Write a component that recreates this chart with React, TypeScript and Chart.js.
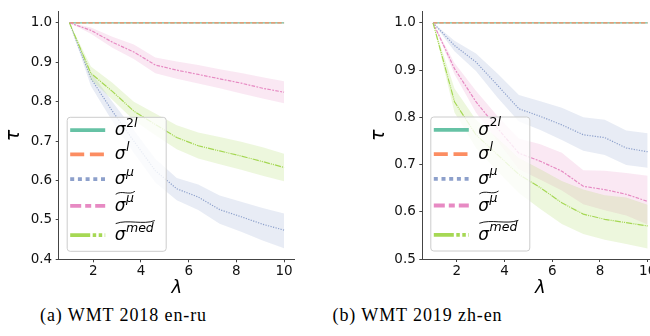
import React, { useEffect, useRef } from 'react';
import { Chart, registerables } from 'chart.js';

Chart.register(...registerables);

// ---------- data ----------
const lambdas = [1, 1.9, 2.8, 3.7, 4.6, 5.5, 6.4, 7.3, 8.2, 9.1, 10];
const xTicks = [2, 4, 6, 8, 10];
const yTicksA = [0.4, 0.5, 0.6, 0.7, 0.8, 0.9, 1.0];
const yTicksB = [0.5, 0.6, 0.7, 0.8, 0.9, 1.0];

// (a) WMT 2018 en-ru
const a_sigma2l = [1.0, 1.0, 1.0, 1.0, 1.0, 1.0, 1.0, 1.0, 1.0, 1.0, 1.0];
const a_sigmal = [1.0, 1.0, 1.0, 1.0, 1.0, 1.0, 1.0, 1.0, 1.0, 1.0, 1.0];
const a_mu_mean = [1.0, 0.859, 0.776, 0.7, 0.625, 0.579, 0.558, 0.526, 0.508, 0.489, 0.474];
const a_mu_upper = [1.0, 0.875, 0.8, 0.728, 0.655, 0.606, 0.59, 0.562, 0.546, 0.53, 0.516];
const a_mu_lower = [1.0, 0.84, 0.75, 0.67, 0.595, 0.55, 0.525, 0.49, 0.47, 0.448, 0.428];
const a_tmu_mean = [1.0, 0.981, 0.951, 0.926, 0.893, 0.88, 0.869, 0.858, 0.847, 0.834, 0.824];
const a_tmu_upper = [1.0, 0.988, 0.965, 0.945, 0.912, 0.902, 0.893, 0.882, 0.873, 0.862, 0.852];
const a_tmu_lower = [1.0, 0.972, 0.937, 0.908, 0.872, 0.858, 0.846, 0.834, 0.821, 0.808, 0.796];
const a_med_mean = [1.0, 0.872, 0.826, 0.776, 0.742, 0.709, 0.688, 0.675, 0.662, 0.648, 0.633];
const a_med_upper = [1.0, 0.889, 0.848, 0.8, 0.77, 0.74, 0.722, 0.71, 0.698, 0.684, 0.668];
const a_med_lower = [1.0, 0.856, 0.805, 0.753, 0.715, 0.679, 0.656, 0.641, 0.627, 0.612, 0.598];

// (b) WMT 2019 zh-en
const b_sigma2l = [1.0, 1.0, 1.0, 1.0, 1.0, 1.0, 1.0, 1.0, 1.0, 1.0, 1.0];
const b_sigmal = [1.0, 1.0, 1.0, 1.0, 1.0, 1.0, 1.0, 1.0, 1.0, 1.0, 1.0];
const b_mu_mean = [1.0, 0.952, 0.917, 0.868, 0.818, 0.802, 0.784, 0.763, 0.757, 0.735, 0.727];
const b_mu_upper = [1.0, 0.962, 0.935, 0.893, 0.847, 0.834, 0.82, 0.8, 0.795, 0.772, 0.766];
const b_mu_lower = [1.0, 0.94, 0.898, 0.842, 0.791, 0.773, 0.752, 0.729, 0.72, 0.699, 0.693];
const b_tmu_mean = [1.0, 0.903, 0.833, 0.777, 0.724, 0.707, 0.686, 0.654, 0.647, 0.637, 0.622];
const b_tmu_upper = [1.0, 0.915, 0.856, 0.803, 0.755, 0.743, 0.725, 0.688, 0.687, 0.682, 0.676];
const b_tmu_lower = [1.0, 0.891, 0.81, 0.75, 0.69, 0.668, 0.645, 0.616, 0.603, 0.592, 0.573];
const b_med_mean = [1.0, 0.833, 0.763, 0.721, 0.679, 0.651, 0.619, 0.595, 0.584, 0.577, 0.57];
const b_med_upper = [1.0, 0.861, 0.795, 0.756, 0.714, 0.69, 0.665, 0.647, 0.635, 0.63, 0.615];
const b_med_lower = [1.0, 0.81, 0.735, 0.686, 0.64, 0.606, 0.574, 0.553, 0.541, 0.532, 0.522];

// legend labels: σ with superscript, optional wide tilde
const legendSups = ['2l', 'l', 'μ', 'μ', 'med'];
const legendTilde = [false, false, false, true, true];
const captions = ['(a) WMT 2018 en-ru', '(b) WMT 2019 zh-en'];

// ---------- styles ----------
const colors = ['#66c2a5', '#fc8d62', '#8da0cb', '#e78ac3', '#a6d854'];
const bandColors = [
  'rgba(102,194,165,0.2)',
  'rgba(252,141,98,0.2)',
  'rgba(141,160,203,0.2)',
  'rgba(231,138,195,0.2)',
  'rgba(166,216,84,0.2)',
];
const lineDashes = [[], [4.4, 1.9], [1.2, 1.4], [3.6, 1.3, 1.9, 1.3], [6.3, 1.0, 1.1, 1.0, 1.1, 1.0]];
const handleDashes = [[], [14, 5.7], [4, 3.7], [11, 4, 6, 4], [20, 2.5, 3.5, 2.5, 3.5, 2.5]];

const FONT = '"DejaVu Sans", sans-serif';

type Band = { mean: number[]; upper: number[]; lower: number[] };
type Spec = {
  left: number;
  canvasW: number;
  padLeft: number;
  yWidth: number;
  padRight: number;
  xHeight: number;
  yMin: number;
  yMax: number;
  yTicks: number[];
  flat: number[][];
  bands: Band[];
};

const specA: Spec = {
  left: 0,
  canvasW: 325,
  padLeft: 0,
  yWidth: 58.7,
  padRight: 30.2,
  xHeight: 40.7,
  yMin: 0.4,
  yMax: 1.0285,
  yTicks: yTicksA,
  flat: [a_sigma2l, a_sigmal],
  bands: [
    { mean: a_mu_mean, upper: a_mu_upper, lower: a_mu_lower },
    { mean: a_tmu_mean, upper: a_tmu_upper, lower: a_tmu_lower },
    { mean: a_med_mean, upper: a_med_upper, lower: a_med_lower },
  ],
};

const specB: Spec = {
  left: 325,
  canvasW: 345,
  padLeft: 40,
  yWidth: 57.3,
  padRight: 11.6,
  xHeight: 41,
  yMin: 0.5,
  yMax: 1.0238,
  yTicks: yTicksB,
  flat: [b_sigma2l, b_sigmal],
  bands: [
    { mean: b_mu_mean, upper: b_mu_upper, lower: b_mu_lower },
    { mean: b_tmu_mean, upper: b_tmu_upper, lower: b_tmu_lower },
    { mean: b_med_mean, upper: b_med_upper, lower: b_med_lower },
  ],
};

const pts = (vals: number[]) => lambdas.map((x, i) => ({ x, y: vals[i] }));

const legendPlugin = {
  id: 'sigmaLegend',
  afterDraw(chart: any) {
    const ctx: CanvasRenderingContext2D = chart.ctx;
    const area = chart.chartArea;
    const bw = 99;
    const bh = 134;
    const bx = area.left + 8;
    const by = area.bottom - 8.5 - bh;
    ctx.save();
    ctx.beginPath();
    (ctx as any).roundRect(bx + 0.5, by + 0.5, bw, bh, 3);
    ctx.fillStyle = 'rgba(255,255,255,0.8)';
    ctx.fill();
    ctx.strokeStyle = '#cccccc';
    ctx.lineWidth = 1;
    ctx.stroke();

    const rowOffsets = [13.3, 37.6, 62.3, 89, 118.3];
    for (let i = 0; i < legendSups.length; i++) {
      const ry = by + rowOffsets[i];
      ctx.beginPath();
      ctx.setLineDash(handleDashes[i]);
      ctx.lineCap = 'butt';
      ctx.lineWidth = 3.8;
      ctx.strokeStyle = colors[i];
      ctx.moveTo(bx + 3.5, ry);
      ctx.lineTo(bx + 38.5, ry);
      ctx.stroke();
      ctx.setLineDash([]);

      const tx = bx + 48;
      ctx.fillStyle = '#000';
      ctx.textAlign = 'left';
      ctx.textBaseline = 'alphabetic';
      ctx.font = `italic 17px ${FONT}`;
      ctx.fillText('σ', tx, ry + 5);
      const sw = ctx.measureText('σ').width;
      let sx = tx + sw + 0.5;
      const sup = legendSups[i];
      for (const ch of sup) {
        ctx.font = ch === '2' ? `12.5px ${FONT}` : `italic 12.5px ${FONT}`;
        ctx.fillText(ch, sx, ry - 3.5);
        sx += ctx.measureText(ch).width;
      }
      if (legendTilde[i]) {
        const xa = tx + 1;
        const xb = sx + 1;
        const w = xb - xa;
        const yT = ry - 13;
        ctx.beginPath();
        ctx.lineWidth = 0.9;
        ctx.strokeStyle = '#000';
        ctx.moveTo(xa, yT + 1.5);
        ctx.bezierCurveTo(xa + w * 0.3, yT - 3, xa + w * 0.7, yT + 3, xb, yT - 1.5);
        ctx.stroke();
      }
    }
    ctx.restore();
  },
};

function buildConfig(spec: Spec): any {
  const datasets: any[] = [];
  spec.flat.forEach((vals, i) => {
    datasets.push({
      data: pts(vals),
      borderColor: colors[i],
      borderWidth: 1.2,
      borderDash: lineDashes[i],
      pointRadius: 0,
      fill: false,
    });
  });
  spec.bands.forEach((b, j) => {
    const ci = j + 2;
    datasets.push({
      data: pts(b.mean),
      borderColor: colors[ci],
      borderWidth: 1.2,
      borderDash: lineDashes[ci],
      pointRadius: 0,
      fill: false,
    });
    datasets.push({
      data: pts(b.upper),
      borderWidth: 0,
      borderColor: 'rgba(0,0,0,0)',
      backgroundColor: bandColors[ci],
      pointRadius: 0,
      fill: '+1',
    });
    datasets.push({
      data: pts(b.lower),
      borderWidth: 0,
      borderColor: 'rgba(0,0,0,0)',
      pointRadius: 0,
      fill: false,
    });
  });
  datasets.forEach((d, i) => {
    d.order = 100 - i;
    d.tension = 0;
  });

  const gridOpts = {
    display: true,
    drawOnChartArea: false,
    drawTicks: true,
    tickLength: 3,
    color: '#444',
    lineWidth: 1,
  };
  const borderOpts = { display: true, color: '#444', width: 1 };

  return {
    type: 'line',
    data: { datasets },
    options: {
      responsive: false,
      animation: false,
      devicePixelRatio: 1,
      layout: { padding: { left: spec.padLeft, right: spec.padRight, top: 10, bottom: 0 } },
      plugins: { legend: { display: false }, tooltip: { enabled: false } },
      scales: {
        x: {
          type: 'linear',
          min: 0.55,
          max: 10.45,
          afterBuildTicks: (s: any) => {
            s.ticks = xTicks.map((v) => ({ value: v }));
          },
          afterFit: (s: any) => {
            s.height = spec.xHeight;
          },
          ticks: {
            font: { size: 13.5, family: FONT },
            color: '#111',
            padding: 1,
            maxRotation: 0,
            autoSkip: false,
            callback: (v: any) => String(v),
          },
          grid: gridOpts,
          border: borderOpts,
          title: {
            display: true,
            text: 'λ',
            color: '#000',
            font: { size: 18, style: 'italic', family: FONT, lineHeight: 1 },
            padding: { top: 0, bottom: 3 },
          },
        },
        y: {
          type: 'linear',
          min: spec.yMin,
          max: spec.yMax,
          afterBuildTicks: (s: any) => {
            s.ticks = spec.yTicks.map((v) => ({ value: v }));
          },
          afterFit: (s: any) => {
            s.width = spec.yWidth;
          },
          ticks: {
            font: { size: 13.5, family: FONT },
            color: '#111',
            padding: 3.5,
            autoSkip: false,
            callback: (v: any) => Number(v).toFixed(1),
          },
          grid: gridOpts,
          border: borderOpts,
          title: {
            display: true,
            text: 'τ',
            color: '#000',
            font: { size: 19, style: 'italic', family: FONT, lineHeight: 1 },
            padding: { top: 4.5, bottom: 0 },
          },
        },
      },
    },
    plugins: [legendPlugin],
  };
}

function Panel({ spec }: { spec: Spec }) {
  const ref = useRef<HTMLCanvasElement>(null);
  useEffect(() => {
    const chart = new Chart(ref.current as HTMLCanvasElement, buildConfig(spec));
    return () => chart.destroy();
  }, []);
  return (
    <canvas
      ref={ref}
      width={spec.canvasW}
      height={300}
      style={{ position: 'absolute', left: spec.left, top: 0, width: spec.canvasW, height: 300 }}
    />
  );
}

const captionStyle: React.CSSProperties = {
  position: 'absolute',
  top: 305,
  width: 300,
  textAlign: 'center',
  fontFamily: '"Liberation Serif", serif',
  fontSize: 18,
  lineHeight: '20px',
  letterSpacing: '0.9px',
  color: '#000',
  whiteSpace: 'nowrap',
};

export default function App() {
  return (
    <div
      style={{
        position: 'absolute',
        left: 0,
        top: 0,
        width: 650,
        height: 336,
        overflow: 'hidden',
        background: '#fff',
      }}
    >
      <Panel spec={specA} />
      <Panel spec={specB} />
      <div style={{ ...captionStyle, left: 123.5 - 150 }}>{captions[0]}</div>
      <div style={{ ...captionStyle, left: 417.5 - 150 }}>{captions[1]}</div>
    </div>
  );
}
